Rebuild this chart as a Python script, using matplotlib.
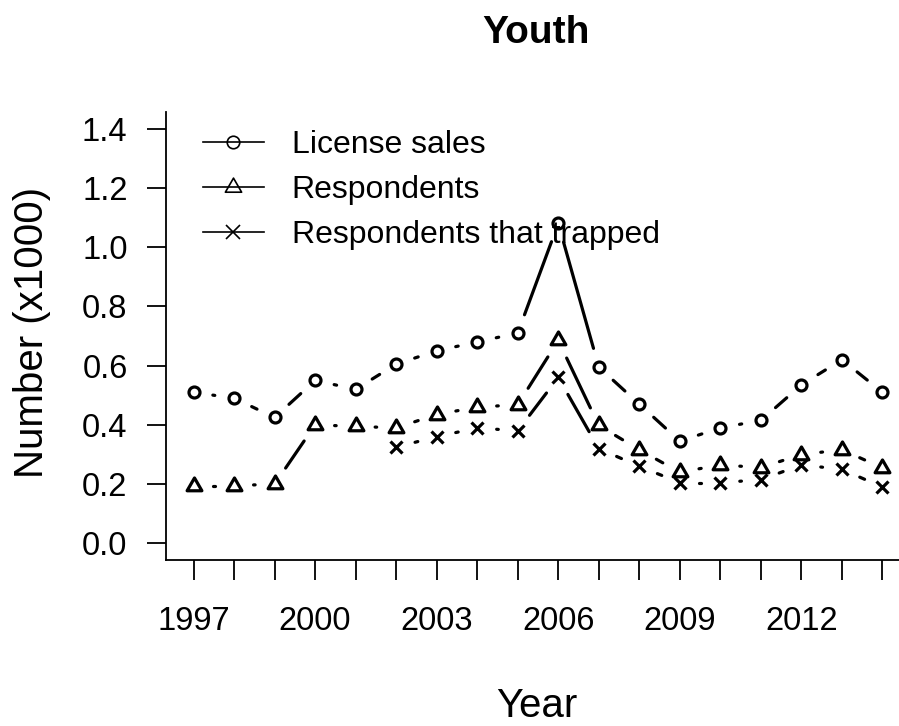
import matplotlib
matplotlib.use("Agg")
import matplotlib.pyplot as plt
from matplotlib.path import Path
from matplotlib.lines import Line2D
import numpy as np

plt.rcParams['font.family'] = ['Liberation Sans', 'DejaVu Sans']

# ---------------- data ----------------
years = list(range(1997, 2015))
license_sales = [0.51, 0.49, 0.425, 0.55, 0.52, 0.605, 0.65, 0.68, 0.71, 1.08,
                 0.595, 0.47, 0.345, 0.39, 0.415, 0.535, 0.62, 0.51]
respondents = [0.195, 0.195, 0.2, 0.40, 0.395, 0.39, 0.435, 0.46, 0.468, 0.685,
               0.398, 0.316, 0.24, 0.265, 0.256, 0.30, 0.316, 0.255]
trapped_years = list(range(2002, 2015))
trapped = [0.325, 0.36, 0.39, 0.38, 0.56, 0.32, 0.26, 0.205, 0.205, 0.215,
           0.265, 0.25, 0.19]

x_tick_years = list(range(1997, 2015))
x_label_years = [1997, 2000, 2003, 2006, 2009, 2012]
y_ticks = [0.0, 0.2, 0.4, 0.6, 0.8, 1.0, 1.2, 1.4]
y_tick_labels = ["0.0", "0.2", "0.4", "0.6", "0.8", "1.0", "1.2", "1.4"]
series_names = ["License sales", "Respondents", "Respondents that trapped"]

# ---------------- figure ----------------
W, H = 899, 726
fig = plt.figure(figsize=(W / 100, H / 100), dpi=100)
ax = fig.add_axes([166 / W, (H - 560) / H, 744 / W, 448 / H])
ax.set_xlim(1996.32, 2014.68)
ax.set_ylim(-0.056, 1.456)

for s in ['top', 'right']:
    ax.spines[s].set_visible(False)
for s in ['left', 'bottom']:
    ax.spines[s].set_linewidth(1.3)
    ax.spines[s].set_color('black')

ax.set_xticks(x_tick_years)
ax.set_xticklabels([str(y) if y in x_label_years else "" for y in x_tick_years])
ax.set_yticks(y_ticks)
ax.set_yticklabels(y_tick_labels)
ax.tick_params(axis='x', length=14.4, width=1.3, pad=19, labelsize=23.5, colors='black')
ax.tick_params(axis='y', length=13.7, width=1.3, pad=14, labelsize=23.5, colors='black')

# triangle like R's pch=2 (centroid-centered equilateral)
tri = Path([(0, 0.583), (0.505, -0.292), (-0.505, -0.292), (0, 0.583)],
           [Path.MOVETO, Path.LINETO, Path.LINETO, Path.CLOSEPOLY])

LW = 2.3
GAP = 19.5  # pixels of gap around each point (type = "b")


def draw_gapped(xs, ys, **kw):
    pts = ax.transData.transform(np.column_stack([xs, ys]))
    inv = ax.transData.inverted()
    for p0, p1 in zip(pts[:-1], pts[1:]):
        d = p1 - p0
        L = np.hypot(d[0], d[1])
        if L <= 2 * GAP:
            continue
        u = d / L
        seg = inv.transform(np.vstack([p0 + u * GAP, p1 - u * GAP]))
        ax.plot(seg[:, 0], seg[:, 1], color='black', lw=LW,
                solid_capstyle='round', **kw)


series = [
    (years, license_sales, dict(marker='o', ms=7.9)),
    (years, respondents, dict(marker=tri, ms=12.3)),
    (trapped_years, trapped, dict(marker='x', ms=8.3)),
]
for xs, ys, mk in series:
    draw_gapped(xs, ys)
    ax.plot(xs, ys, linestyle='none', mfc='none', mec='black', mew=LW, **mk)

# legend
handles = [
    Line2D([], [], color='black', lw=1.2, marker='o', ms=9.0, mfc='none', mew=1.2),
    Line2D([], [], color='black', lw=1.2, marker=tri, ms=13.5, mfc='none', mew=1.2),
    Line2D([], [], color='black', lw=1.2, marker='x', ms=9.5, mfc='none', mew=1.2),
]
leg = ax.legend(handles, series_names, loc='upper left',
                bbox_to_anchor=(203 / W, 1 - 130 / H), bbox_transform=fig.transFigure,
                frameon=False, fontsize=23, handlelength=1.9, handletextpad=0.88,
                labelspacing=0.47, borderpad=0, borderaxespad=0, numpoints=1)

# titles
fig.text(536 / W, 1 - 43 / H, "Youth", ha='center', va='baseline',
         fontsize=28, fontweight='bold')
fig.text(537 / W, 1 - 717 / H, "Year", ha='center', va='baseline', fontsize=29)
fig.text(32 / W, 1 - 332 / H, "Number (x1000)", ha='center', va='center',
         rotation=90, fontsize=29)

fig.savefig("out.png", dpi=100)
